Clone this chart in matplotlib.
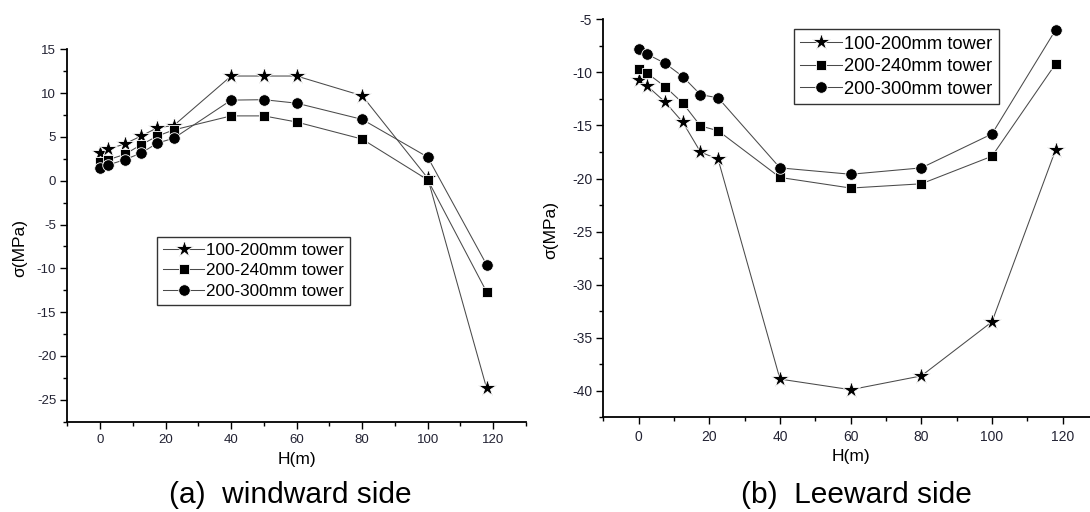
import matplotlib
matplotlib.use('Agg')
import matplotlib.pyplot as plt
from matplotlib.ticker import MultipleLocator

plt.rcParams['font.family'] = ['Liberation Sans', 'DejaVu Sans']
plt.rcParams['axes.unicode_minus'] = False

# windward side
h_wind = [0, 2.5, 7.5, 12.5, 17.5, 22.5, 40, 50, 60, 80, 100, 118]
wind_100_200 = [3.2, 3.6, 4.2, 5.1, 6.05, 6.3, 11.95, 11.95, 11.95, 9.7, 0.3, -23.7]
wind_200_240 = [2.1, 2.4, 3.0, 4.1, 5.1, 5.8, 7.4, 7.4, 6.7, 4.75, 0.1, -12.7]
wind_200_300 = [1.5, 1.8, 2.4, 3.15, 4.3, 4.85, 9.2, 9.25, 8.85, 7.0, 2.7, -9.6]

# leeward side
h_lee = [0, 2.5, 7.5, 12.5, 17.5, 22.5, 40, 60, 80, 100, 118]
lee_100_200 = [-10.7, -11.3, -12.8, -14.7, -17.5, -18.2, -38.9, -39.9, -38.6, -33.5, -17.3]
lee_200_240 = [-9.7, -10.1, -11.35, -12.9, -15.05, -15.5, -19.9, -20.9, -20.5, -17.9, -9.2]
lee_200_300 = [-7.8, -8.3, -9.15, -10.4, -12.1, -12.4, -19.0, -19.6, -19.0, -15.8, -6.0]

labels = ['100-200mm tower', '200-240mm tower', '200-300mm tower']
markers = ['*', 's', 'o']
msizes = [13, 7.3, 8.3]

fig = plt.figure(figsize=(10.9, 5.12), dpi=100)
W, H = 1090, 512


def px_axes(l, t, r, b):
    return fig.add_axes([l / W, (H - b) / H, (r - l) / W, (b - t) / H])


def style(ax, fs):
    for s in ['top', 'right']:
        ax.spines[s].set_visible(False)
    for s in ['left', 'bottom']:
        ax.spines[s].set_linewidth(1.3)
    ax.xaxis.set_major_locator(MultipleLocator(20))
    ax.xaxis.set_minor_locator(MultipleLocator(10))
    ax.yaxis.set_major_locator(MultipleLocator(5))
    ax.yaxis.set_minor_locator(MultipleLocator(2.5))
    ax.tick_params(which='major', direction='out', length=5, width=1,
                   labelsize=fs, labelcolor='#222233', pad=3)
    ax.tick_params(which='minor', direction='out', length=3, width=1)
    ax.tick_params(axis='x', which='major', pad=4)
    ax.set_xlabel('H(m)', fontsize=12.5)
    ax.set_ylabel('σ(MPa)', fontsize=12.5)


def draw(ax, x, series):
    for y, m, ms, lab in zip(series, markers, msizes, labels):
        ax.plot(x, y, color='#4a4a4a', lw=0.75, marker=m, ms=ms,
                mfc='black', mec='white', mew=0.6, label=lab)


ax1 = px_axes(67.3, 49.3, 526, 421.7)
draw(ax1, h_wind, [wind_100_200, wind_200_240, wind_200_300])
ax1.set_xlim(-10, 130)
ax1.set_ylim(-27.5, 15)
style(ax1, 9.5)
ax1.yaxis.set_label_coords(-0.088, 0.466)
ax1.legend(loc='upper left', bbox_to_anchor=(157.3 / W, (H - 237.3) / H),
           bbox_transform=fig.transFigure, fontsize=12.3, frameon=True,
           fancybox=False, edgecolor='#333333', borderaxespad=0,
           handlelength=2.4, handletextpad=0.1, labelspacing=0.3,
           borderpad=0.35, framealpha=1)

ax2 = px_axes(603.3, 19.3, 1098, 417.3)
draw(ax2, h_lee, [lee_100_200, lee_200_240, lee_200_300])
ax2.set_xlim(-10, 130)
ax2.set_ylim(-42.5, -5)
style(ax2, 10)
ax2.yaxis.set_label_coords(-0.092, 0.47)
ax2.legend(loc='upper left', bbox_to_anchor=(793.8 / W, (H - 29.3) / H),
           bbox_transform=fig.transFigure, fontsize=13.2, frameon=True,
           fancybox=False, edgecolor='#333333', borderaxespad=0,
           handlelength=2.3, handletextpad=0.1, labelspacing=0.3,
           borderpad=0.35, framealpha=1)

fig.text(290 / W, (H - 503) / H, '(a)  windward side', fontsize=21.5,
         ha='center', va='baseline')
fig.text(856 / W, (H - 503) / H, '(b)  Leeward side', fontsize=21.5,
         ha='center', va='baseline')

fig.savefig('out.png', dpi=100)
